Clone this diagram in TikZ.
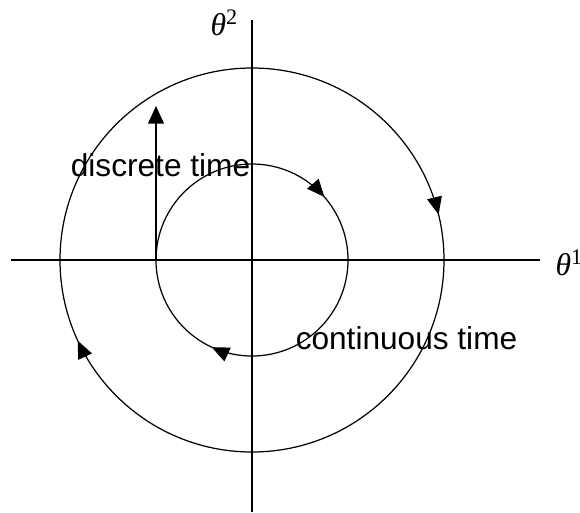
\documentclass[tikz,border=0pt]{standalone}
\usepackage{fontspec}
\setmainfont{Liberation Sans}
\newfontfamily\thetafont{Liberation Serif}
\usetikzlibrary{arrows.meta, decorations.markings}

\begin{document}
\begin{tikzpicture}[
    x=0.02cm, y=0.02cm, line width=0.7pt,
    lbl/.style={font=\fontsize{18}{20}\selectfont, inner sep=0pt},
    axlbl/.style={font=\fontsize{18}{20}\selectfont\thetafont\itshape,
                  inner sep=0pt, anchor=west},
    tip/.style={-{Triangle[length=10pt, width=9pt]}},
    spin/.style 2 args={postaction={decorate}, decoration={markings,
        mark=at position #1 with {\arrow{Triangle[length=10pt, width=8.5pt]}},
        mark=at position #2 with {\arrow{Triangle[length=10pt, width=8.5pt]}}}}
  ]
    \useasboundingbox (-252,-252) rectangle (328,260);
    % axes
    \coordinate (o) at (0,0);
    \coordinate (w) at (-241,0);
    \coordinate (e) at (288,0);
    \coordinate (n) at (0,240);
    \coordinate (s) at (0,-252);
    \draw (w) -- (e);
    \draw (n) -- (s);
    \node[axlbl] (t1) at (303,-3) {θ\textsuperscript{\upshape 1}};
    \node[axlbl] (t2) at (-42,237) {θ\textsuperscript{\upshape 2}};
    % orbits, clockwise
    \draw[spin={0.462}{0.931}] (o) ++(180:192)
      arc[start angle=180, end angle=-180, radius=192];
    \draw[spin={0.386}{0.819}] (o) ++(180:96)
      arc[start angle=180, end angle=-180, radius=96];
    % jump
    \coordinate (p) at (-96,0);
    \coordinate (q) at (-96,154);
    \draw[tip] (p) -- (q);
    \node[lbl] (dt) at (-91.5,95) {discrete time};
    \node[lbl] (ct) at (154.5,-78) {continuous time};
\end{tikzpicture}
\end{document}
